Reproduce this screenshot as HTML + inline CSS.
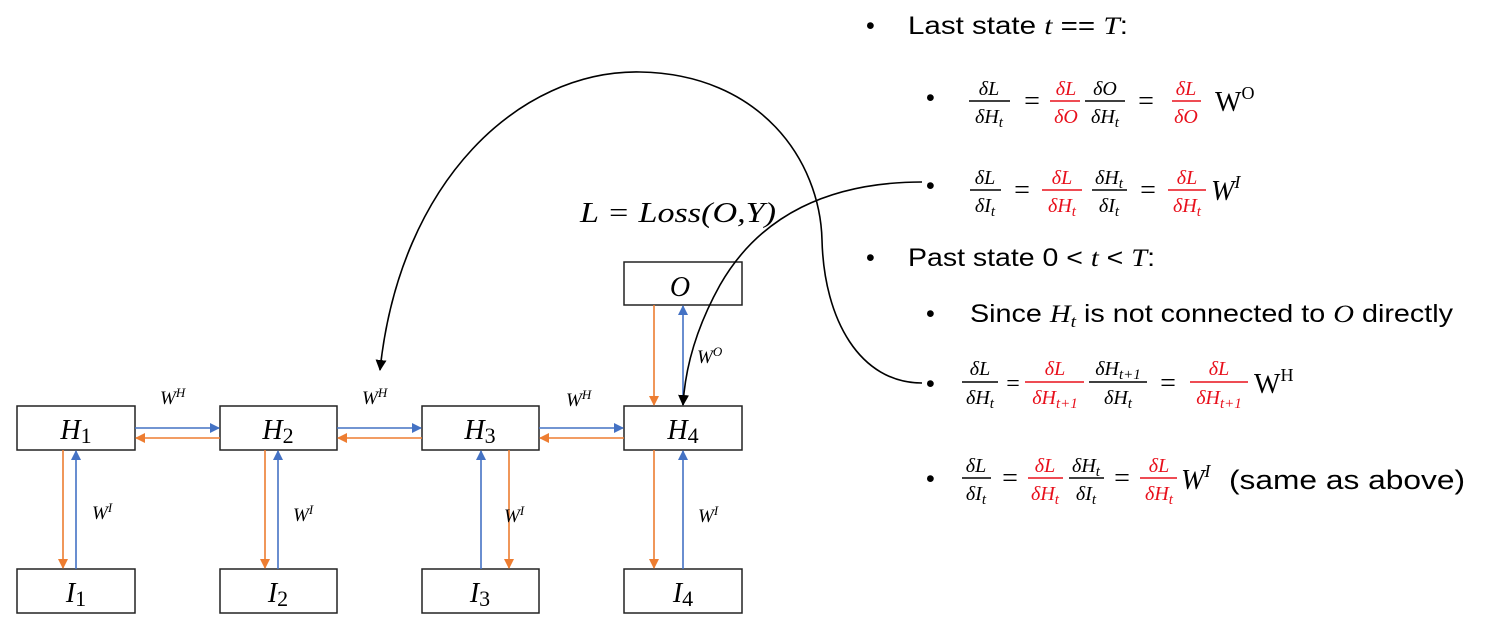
<!DOCTYPE html>
<html><head><meta charset="utf-8"><style>
html,body{margin:0;padding:0;background:#fff;}
svg{display:block;}
.m{font-family:"Liberation Serif",serif;font-style:italic;}
.s{font-family:"Liberation Sans",sans-serif;}
.r{fill:#e8101c;}
</style></head><body>
<svg width="1488" height="633" viewBox="0 0 1488 633" xmlns="http://www.w3.org/2000/svg">
<defs>
<marker id="ab" markerWidth="10" markerHeight="10" refX="9" refY="5" orient="auto" markerUnits="userSpaceOnUse"><path d="M0,0 L10,5 L0,10 z" fill="#4472c4"/></marker>
<marker id="ao" markerWidth="10" markerHeight="10" refX="9" refY="5" orient="auto" markerUnits="userSpaceOnUse"><path d="M0,0 L10,5 L0,10 z" fill="#ed7d31"/></marker>
<marker id="ak" markerWidth="11" markerHeight="11" refX="10" refY="5.5" orient="auto" markerUnits="userSpaceOnUse"><path d="M0,0 L11,5.5 L0,11 z" fill="#000"/></marker>
</defs>
<g fill="#fff" stroke="#222" stroke-width="1.5">
<rect x="17" y="406" width="118" height="44"/>
<rect x="220" y="406" width="117" height="44"/>
<rect x="422" y="406" width="117" height="44"/>
<rect x="624" y="406" width="118" height="44"/>
<rect x="17" y="569" width="118" height="44"/>
<rect x="220" y="569" width="117" height="44"/>
<rect x="422" y="569" width="117" height="44"/>
<rect x="624" y="569" width="118" height="44"/>
<rect x="624" y="262" width="118" height="43"/>
</g>
<g class="m" font-size="28" text-anchor="middle">
<text x="76" y="439">H<tspan font-style="normal" font-size="22" dy="4">1</tspan></text>
<text x="278" y="439">H<tspan font-style="normal" font-size="22" dy="4">2</tspan></text>
<text x="480" y="439">H<tspan font-style="normal" font-size="22" dy="4">3</tspan></text>
<text x="683" y="439">H<tspan font-style="normal" font-size="22" dy="4">4</tspan></text>
<text x="76" y="602">I<tspan font-style="normal" font-size="22" dy="4">1</tspan></text>
<text x="278" y="602">I<tspan font-style="normal" font-size="22" dy="4">2</tspan></text>
<text x="480" y="602">I<tspan font-style="normal" font-size="22" dy="4">3</tspan></text>
<text x="683" y="602">I<tspan font-style="normal" font-size="22" dy="4">4</tspan></text>
<text x="680" y="296">O</text>
</g>
<g stroke-width="1.6" fill="none">
<line x1="135" y1="428" x2="219" y2="428" stroke="#4472c4" marker-end="url(#ab)"/>
<line x1="337" y1="428" x2="421" y2="428" stroke="#4472c4" marker-end="url(#ab)"/>
<line x1="539" y1="428" x2="623" y2="428" stroke="#4472c4" marker-end="url(#ab)"/>
<line x1="220" y1="438" x2="136" y2="438" stroke="#ed7d31" marker-end="url(#ao)"/>
<line x1="422" y1="438" x2="338" y2="438" stroke="#ed7d31" marker-end="url(#ao)"/>
<line x1="624" y1="438" x2="540" y2="438" stroke="#ed7d31" marker-end="url(#ao)"/>
<line x1="63" y1="450" x2="63" y2="568" stroke="#ed7d31" marker-end="url(#ao)"/>
<line x1="76" y1="569" x2="76" y2="451" stroke="#4472c4" marker-end="url(#ab)"/>
<line x1="265" y1="450" x2="265" y2="568" stroke="#ed7d31" marker-end="url(#ao)"/>
<line x1="278" y1="569" x2="278" y2="451" stroke="#4472c4" marker-end="url(#ab)"/>
<line x1="481" y1="569" x2="481" y2="451" stroke="#4472c4" marker-end="url(#ab)"/>
<line x1="509" y1="450" x2="509" y2="568" stroke="#ed7d31" marker-end="url(#ao)"/>
<line x1="654" y1="450" x2="654" y2="568" stroke="#ed7d31" marker-end="url(#ao)"/>
<line x1="683" y1="569" x2="683" y2="451" stroke="#4472c4" marker-end="url(#ab)"/>
<line x1="654" y1="305" x2="654" y2="405" stroke="#ed7d31" marker-end="url(#ao)"/>
<line x1="683" y1="405" x2="683" y2="306" stroke="#4472c4" marker-end="url(#ab)"/>
<path d="M922,383 C860,383 824,320 822,240 C820,160 760,74 640,72 C520,70 400,180 380,370" stroke="#000" marker-end="url(#ak)"/>
<path d="M922,182 C830,182 760,215 720,285 C695,330 685,370 683,405" stroke="#000" marker-end="url(#ak)"/>
</g>
<g class="m" font-size="19">
<text x="160" y="404">W<tspan font-size="13" dy="-7">H</tspan></text>
<text x="362" y="404">W<tspan font-size="13" dy="-7">H</tspan></text>
<text x="566" y="406">W<tspan font-size="13" dy="-7">H</tspan></text>
<text x="92" y="519">W<tspan font-size="13" dy="-7">I</tspan></text>
<text x="293" y="521">W<tspan font-size="13" dy="-7">I</tspan></text>
<text x="504" y="522">W<tspan font-size="13" dy="-7">I</tspan></text>
<text x="698" y="522">W<tspan font-size="13" dy="-7">I</tspan></text>
<text x="697" y="363">W<tspan font-size="13" dy="-7">O</tspan></text>
</g>
<text class="m" x="580" y="222" font-size="28" textLength="196" lengthAdjust="spacingAndGlyphs">L = Loss(O,Y)</text>

<g font-size="25">
<text class="s" x="866" y="34">•</text>
<text class="s" x="908" y="34" textLength="220" lengthAdjust="spacingAndGlyphs">Last state <tspan class="m">t</tspan> == <tspan class="m">T</tspan>:</text>
<text class="s" x="926" y="106">•</text>
<text class="s" x="926" y="194">•</text>
<text class="s" x="866" y="266">•</text>
<text class="s" x="908" y="266" textLength="247" lengthAdjust="spacingAndGlyphs">Past state 0 &lt; <tspan class="m">t</tspan> &lt; <tspan class="m">T</tspan>:</text>
<text class="s" x="926" y="322">•</text>
<text class="s" x="970" y="322" textLength="483" lengthAdjust="spacingAndGlyphs">Since <tspan class="m">H<tspan font-size="17" dy="5">t</tspan></tspan><tspan dy="-5"> is not connected to </tspan><tspan class="m">O</tspan> directly</text>
<text class="s" x="926" y="392">•</text>
<text class="s" x="926" y="487">•</text>
</g>

<g class="m" font-size="20" text-anchor="middle" stroke-width="1.6">
<text x="989" y="95">δL</text><line x1="969" y1="101" x2="1010" y2="101" stroke="#000"/><text x="989" y="123">δH<tspan font-size="15" dy="4">t</tspan></text>
<text x="1032" y="110" font-style="normal" font-size="28">=</text>
<text class="r" x="1066" y="95">δL</text><line x1="1050" y1="101" x2="1080" y2="101" stroke="#e8101c"/><text class="r" x="1066" y="123">δO</text>
<text x="1105" y="95">δO</text><line x1="1085" y1="101" x2="1125" y2="101" stroke="#000"/><text x="1105" y="123">δH<tspan font-size="15" dy="4">t</tspan></text>
<text x="1146" y="110" font-style="normal" font-size="28">=</text>
<text class="r" x="1186" y="95">δL</text><line x1="1172" y1="101" x2="1201" y2="101" stroke="#e8101c"/><text class="r" x="1186" y="123">δO</text>
<text x="985" y="184">δL</text><line x1="970" y1="190" x2="1001" y2="190" stroke="#000"/><text x="985" y="212">δI<tspan font-size="15" dy="4">t</tspan></text>
<text x="1022" y="199" font-style="normal" font-size="28">=</text>
<text class="r" x="1062" y="184">δL</text><line x1="1042" y1="190" x2="1082" y2="190" stroke="#e8101c"/><text class="r" x="1062" y="212">δH<tspan font-size="15" dy="4">t</tspan></text>
<text x="1109" y="184">δH<tspan font-size="15" dy="4">t</tspan></text><line x1="1092" y1="190" x2="1127" y2="190" stroke="#000"/><text x="1109" y="212">δI<tspan font-size="15" dy="4">t</tspan></text>
<text x="1148" y="199" font-style="normal" font-size="28">=</text>
<text class="r" x="1187" y="184">δL</text><line x1="1168" y1="190" x2="1206" y2="190" stroke="#e8101c"/><text class="r" x="1187" y="212">δH<tspan font-size="15" dy="4">t</tspan></text>
<text x="980" y="375">δL</text><line x1="962" y1="382" x2="998" y2="382" stroke="#000"/><text x="980" y="404">δH<tspan font-size="15" dy="4">t</tspan></text>
<text x="1013" y="391" font-style="normal" font-size="24">=</text>
<text class="r" x="1055" y="375">δL</text><line x1="1025" y1="382" x2="1084" y2="382" stroke="#e8101c"/><text class="r" x="1055" y="404">δH<tspan font-size="15" dy="4">t+1</tspan></text>
<text x="1118" y="375">δH<tspan font-size="15" dy="4">t+1</tspan></text><line x1="1089" y1="382" x2="1147" y2="382" stroke="#000"/><text x="1118" y="404">δH<tspan font-size="15" dy="4">t</tspan></text>
<text x="1168" y="392" font-style="normal" font-size="28">=</text>
<text class="r" x="1219" y="375">δL</text><line x1="1190" y1="382" x2="1248" y2="382" stroke="#e8101c"/><text class="r" x="1219" y="404">δH<tspan font-size="15" dy="4">t+1</tspan></text>
<text x="976" y="472">δL</text><line x1="962" y1="478" x2="991" y2="478" stroke="#000"/><text x="976" y="500">δI<tspan font-size="15" dy="4">t</tspan></text>
<text x="1010" y="487" font-style="normal" font-size="28">=</text>
<text class="r" x="1045" y="472">δL</text><line x1="1028" y1="478" x2="1063" y2="478" stroke="#e8101c"/><text class="r" x="1045" y="500">δH<tspan font-size="15" dy="4">t</tspan></text>
<text x="1086" y="472">δH<tspan font-size="15" dy="4">t</tspan></text><line x1="1069" y1="478" x2="1104" y2="478" stroke="#000"/><text x="1086" y="500">δI<tspan font-size="15" dy="4">t</tspan></text>
<text x="1122" y="487" font-style="normal" font-size="28">=</text>
<text class="r" x="1159" y="472">δL</text><line x1="1140" y1="478" x2="1177" y2="478" stroke="#e8101c"/><text class="r" x="1159" y="500">δH<tspan font-size="15" dy="4">t</tspan></text>
</g>
<g font-size="28">
<text x="1215" y="111" font-family="Liberation Serif,serif">W<tspan font-size="18" dy="-12">O</tspan></text>
<text class="m" x="1211" y="200">W<tspan font-size="18" dy="-12">I</tspan></text>
<text x="1254" y="393" font-family="Liberation Serif,serif">W<tspan font-size="18" dy="-12">H</tspan></text>
<text class="m" x="1181" y="489">W<tspan font-size="18" dy="-12">I</tspan></text>
<text class="s" x="1229" y="489" font-size="27" textLength="236" lengthAdjust="spacingAndGlyphs">(same as above)</text>
</g>
</svg>
</body></html>
